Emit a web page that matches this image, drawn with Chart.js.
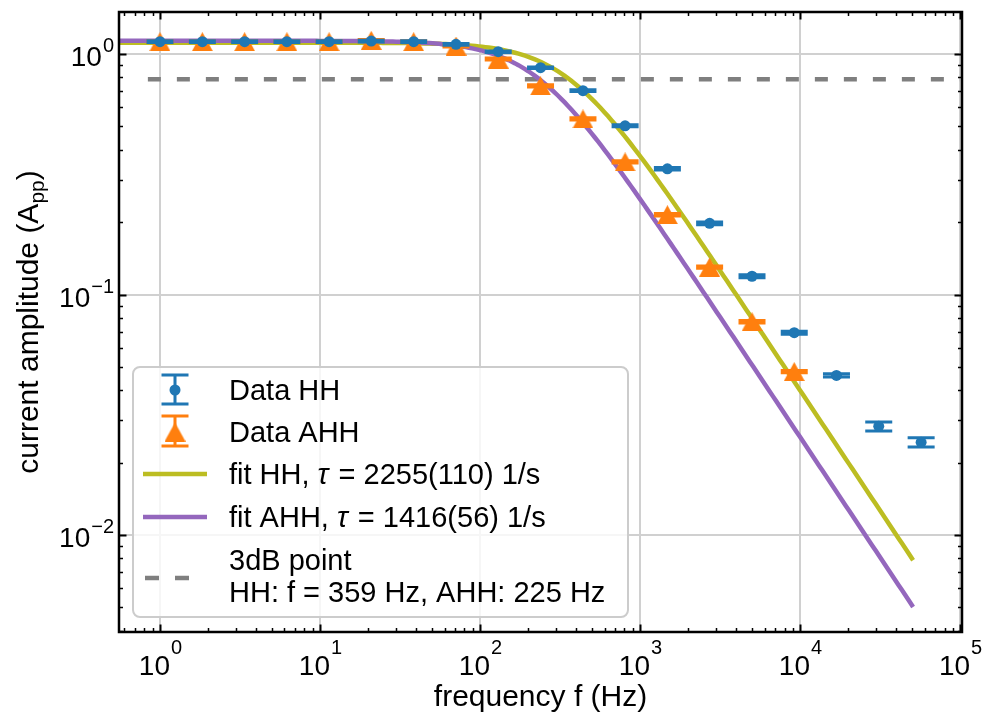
<!DOCTYPE html>
<html>
<head>
<meta charset="utf-8">
<script src="https://cdn.jsdelivr.net/npm/chart.js@4.4.1/dist/chart.umd.min.js"></script>
<style>
  html, body { margin: 0; padding: 0; background: #ffffff; }
  #wrap { width: 987px; height: 718px; }
</style>
</head>
<body>
<div id="wrap"><canvas id="chart" width="987" height="718"></canvas></div>
<script>
// ---- measured data ----
const hhFreq = [1.00, 1.84, 3.38, 6.21, 11.4, 20.9, 38.5, 70.8, 130, 239, 440, 807, 1483, 2723, 5012, 9204, 16900, 31050, 57150];
const hhAmp  = [1.125, 1.125, 1.125, 1.125, 1.125, 1.132, 1.125, 1.097, 1.022, 0.877, 0.704, 0.503, 0.333, 0.1976, 0.1191, 0.0694, 0.0461, 0.0283, 0.0243];
const hhErr  = [0.009, 0.009, 0.009, 0.009, 0.009, 0.009, 0.009, 0.009, 0.008, 0.007, 0.006, 0.005, 0.004, 0.0028, 0.0017, 0.0010, 0.0007, 0.0012, 0.0011];

const ahhFreq = [1.00, 1.84, 3.38, 6.21, 11.4, 20.9, 38.5, 70.8, 130, 239, 440, 807, 1483, 2723, 5012, 9204];
const ahhAmp  = [1.125, 1.125, 1.125, 1.125, 1.125, 1.14, 1.125, 1.079, 0.953, 0.737, 0.537, 0.356, 0.2147, 0.130, 0.0770, 0.0478];
const ahhErr  = [0.009, 0.009, 0.009, 0.009, 0.009, 0.009, 0.009, 0.009, 0.009, 0.008, 0.006, 0.004, 0.0025, 0.0015, 0.0009, 0.0005];

// low-pass fit: A(f) = A0 / sqrt(1 + (2*pi*f/tau)^2)
const fitTauHH = 2255, fitA0HH = 1.115;
const fitTauAHH = 1416, fitA0AHH = 1.135;
const fitRange = [0.55, 50000];

// 3 dB level
const db3Level = 0.785;
const db3Range = [0.84, 100000];

// axis ticks
const xTickVals = [1, 10, 100, 1000, 10000, 100000];
const xTickExp  = ['0', '1', '2', '3', '4', '5'];
const yTickVals = [1, 0.1, 0.01];
const yTickExp  = ['0', '\u22121', '\u22122'];

const xLim = [0.5544, 102900];
const yLim = [0.003951, 1.495];

// ---- colours ----
const BLUE = '#1f77b4', ORANGE = '#ff7f0e', OLIVE = '#bcbd22', PURPLE = '#9467bd', GREY = '#7f7f7f';
const FONT = '"Liberation Sans", Arial, Helvetica, sans-serif';

function fitCurve(a0, tau) {
  const pts = [];
  const n = 240;
  const l0 = Math.log10(fitRange[0]), l1 = Math.log10(fitRange[1]);
  for (let i = 0; i <= n; i++) {
    const f = Math.pow(10, l0 + (l1 - l0) * i / n);
    const w = 2 * Math.PI * f / tau;
    pts.push({ x: f, y: a0 / Math.sqrt(1 + w * w) });
  }
  return pts;
}

// triangle marker (centred on its bounding box)
function makeTriangle(w, h, color) {
  const c = document.createElement('canvas');
  c.width = w; c.height = h;
  const g = c.getContext('2d');
  g.fillStyle = color;
  g.beginPath();
  g.moveTo(w / 2, 0); g.lineTo(w, h); g.lineTo(0, h); g.closePath();
  g.fill();
  return c;
}
const triMarker = makeTriangle(21, 19, ORANGE);

const errData = { 0: { amp: hhAmp, err: hhErr, color: BLUE }, 1: { amp: ahhAmp, err: ahhErr, color: ORANGE } };

const decorPlugin = {
  id: 'decor',
  beforeDatasetsDraw(chart) {
    const { ctx, chartArea: a, scales: { x, y } } = chart;
    ctx.save();
    ctx.strokeStyle = '#d0d0d0';
    ctx.lineWidth = 2;
    xTickVals.forEach(v => {
      const px = Math.round(x.getPixelForValue(v));
      if (px < a.left || px > a.right) return;
      ctx.beginPath(); ctx.moveTo(px, a.top); ctx.lineTo(px, a.bottom); ctx.stroke();
    });
    yTickVals.forEach(v => {
      const py = Math.round(y.getPixelForValue(v));
      ctx.beginPath(); ctx.moveTo(a.left, py); ctx.lineTo(a.right, py); ctx.stroke();
    });
    ctx.restore();
  },
  beforeDatasetDraw(chart, args) {
    const e = errData[args.index];
    if (!e) return;
    const { ctx, scales: { y } } = chart;
    const meta = chart.getDatasetMeta(args.index);
    ctx.save();
    ctx.strokeStyle = e.color;
    ctx.lineWidth = 3;
    meta.data.forEach((pt, i) => {
      const yTop = y.getPixelForValue(e.amp[i] + e.err[i]);
      const yBot = y.getPixelForValue(e.amp[i] - e.err[i]);
      ctx.beginPath();
      ctx.moveTo(pt.x, yTop); ctx.lineTo(pt.x, yBot);
      ctx.moveTo(pt.x - 13.5, yTop); ctx.lineTo(pt.x + 13.5, yTop);
      ctx.moveTo(pt.x - 13.5, yBot); ctx.lineTo(pt.x + 13.5, yBot);
      ctx.stroke();
    });
    ctx.restore();
  },
  afterDatasetsDraw(chart) {
    const { ctx } = chart;
    ctx.save();

    // legend
    const L = { x0: 133, y0: 367, x1: 628, y1: 617, r: 7 };
    ctx.beginPath();
    ctx.roundRect(L.x0, L.y0, L.x1 - L.x0, L.y1 - L.y0, L.r);
    ctx.fillStyle = 'rgba(255,255,255,0.8)';
    ctx.fill();
    ctx.strokeStyle = '#cccccc';
    ctx.lineWidth = 2;
    ctx.stroke();

    const sx = 175, tx = 229;
    // Data HH symbol
    ctx.strokeStyle = BLUE; ctx.lineWidth = 3;
    ctx.beginPath();
    ctx.moveTo(sx, 375); ctx.lineTo(sx, 404);
    ctx.moveTo(sx - 13.5, 375); ctx.lineTo(sx + 13.5, 375);
    ctx.moveTo(sx - 13.5, 404); ctx.lineTo(sx + 13.5, 404);
    ctx.stroke();
    ctx.fillStyle = BLUE;
    ctx.beginPath(); ctx.arc(sx, 390, 5.5, 0, Math.PI * 2); ctx.fill();
    // Data AHH symbol
    ctx.strokeStyle = ORANGE;
    ctx.beginPath();
    ctx.moveTo(sx, 416); ctx.lineTo(sx, 446);
    ctx.moveTo(sx - 13.5, 416); ctx.lineTo(sx + 13.5, 416);
    ctx.moveTo(sx - 13.5, 446); ctx.lineTo(sx + 13.5, 446);
    ctx.stroke();
    ctx.drawImage(triMarker, sx - 10.5, 432 - 9.5);
    // fit lines
    ctx.lineWidth = 4.5; ctx.lineCap = 'butt';
    ctx.strokeStyle = OLIVE;
    ctx.beginPath(); ctx.moveTo(143, 474); ctx.lineTo(207, 474); ctx.stroke();
    ctx.strokeStyle = PURPLE;
    ctx.beginPath(); ctx.moveTo(143, 517); ctx.lineTo(207, 517); ctx.stroke();
    // dashed 3dB
    ctx.strokeStyle = GREY;
    ctx.beginPath(); ctx.moveTo(145, 578); ctx.lineTo(159, 578); ctx.moveTo(175, 578); ctx.lineTo(189, 578); ctx.stroke();

    ctx.fillStyle = '#000000';
    ctx.textBaseline = 'alphabetic';
    ctx.textAlign = 'left';
    const fs = 29;
    ctx.font = `${fs}px ${FONT}`;
    ctx.fillText('Data HH', tx, 400);
    ctx.fillText('Data AHH', tx, 442);
    const drawTau = (pre, post, base) => {
      ctx.font = `${fs}px ${FONT}`;
      ctx.fillText(pre, tx, base);
      let w = ctx.measureText(pre).width;
      ctx.font = `italic ${fs}px ${FONT}`;
      ctx.fillText('\u03c4', tx + w, base);
      w += ctx.measureText('\u03c4').width + 2;
      ctx.font = `${fs}px ${FONT}`;
      ctx.fillText(post, tx + w, base);
    };
    drawTau('fit HH, ', ' = 2255(110) 1/s', 484);
    drawTau('fit AHH, ', ' = 1416(56) 1/s', 527);
    ctx.font = `${fs}px ${FONT}`;
    ctx.fillText('3dB point', tx, 570);
    ctx.fillText('HH: f = 359 Hz, AHH: 225 Hz', tx, 602);

    ctx.restore();
  },
  afterDraw(chart) {
    const { ctx, chartArea: a, scales: { x, y } } = chart;
    ctx.save();
    // inward ticks
    ctx.strokeStyle = '#000000';
    const tick = (isMajor) => { ctx.lineWidth = isMajor ? 2 : 1.5; return isMajor ? 7.5 : 4; };
    for (let k = -1; k <= 5; k++) {
      for (let m = 1; m <= 9; m++) {
        const v = m * Math.pow(10, k);
        if (v < xLim[0] || v > xLim[1]) continue;
        const px = Math.round(x.getPixelForValue(v)) + 0.5;
        const len = tick(m === 1);
        ctx.beginPath();
        ctx.moveTo(px, a.bottom); ctx.lineTo(px, a.bottom - len);
        ctx.moveTo(px, a.top); ctx.lineTo(px, a.top + len);
        ctx.stroke();
      }
    }
    for (let k = -3; k <= 0; k++) {
      for (let m = 1; m <= 9; m++) {
        const v = m * Math.pow(10, k);
        if (v < yLim[0] || v > yLim[1]) continue;
        const py = Math.round(y.getPixelForValue(v)) + 0.5;
        const len = tick(m === 1);
        ctx.beginPath();
        ctx.moveTo(a.left, py); ctx.lineTo(a.left + len, py);
        ctx.moveTo(a.right, py); ctx.lineTo(a.right - len, py);
        ctx.stroke();
      }
    }
    // frame
    ctx.lineWidth = 2.5;
    ctx.strokeRect(a.left, a.top, a.right - a.left, a.bottom - a.top);

    // tick labels
    ctx.fillStyle = '#000000';
    ctx.textBaseline = 'alphabetic';
    const baseFs = 28, supFs = 20;
    xTickVals.forEach((v, i) => {
      const px = x.getPixelForValue(v);
      ctx.font = `${baseFs}px ${FONT}`;
      const w1 = ctx.measureText('10').width;
      ctx.font = `${supFs}px ${FONT}`;
      const w2 = ctx.measureText(xTickExp[i]).width;
      const left = px - (w1 + w2) / 2;
      ctx.textAlign = 'left';
      ctx.font = `${baseFs}px ${FONT}`;
      ctx.fillText('10', left, 675);
      ctx.font = `${supFs}px ${FONT}`;
      ctx.fillText(xTickExp[i], left + w1 + 1, 654);
    });
    yTickVals.forEach((v, i) => {
      const py = y.getPixelForValue(v);
      ctx.font = `${supFs}px ${FONT}`;
      const w2 = ctx.measureText(yTickExp[i]).width;
      const right = 114;
      ctx.textAlign = 'right';
      ctx.fillText(yTickExp[i], right, py - 2);
      ctx.font = `${baseFs}px ${FONT}`;
      ctx.fillText('10', right - w2 - 1, py + 12);
    });

    // axis titles
    const tfs = 30, subFs = 21;
    ctx.textAlign = 'center';
    ctx.font = `${tfs}px ${FONT}`;
    ctx.fillText('frequency f (Hz)', (a.left + a.right) / 2, 706);

    ctx.translate(38, (a.top + a.bottom) / 2);
    ctx.rotate(-Math.PI / 2);
    ctx.textAlign = 'left';
    const t1 = 'current amplitude (A', t2 = 'pp', t3 = ')';
    ctx.font = `${tfs}px ${FONT}`;
    const w1 = ctx.measureText(t1).width, w3 = ctx.measureText(t3).width;
    ctx.font = `${subFs}px ${FONT}`;
    const w2 = ctx.measureText(t2).width;
    let cx = -(w1 + w2 + w3) / 2;
    ctx.font = `${tfs}px ${FONT}`;
    ctx.fillText(t1, cx, 0); cx += w1;
    ctx.font = `${subFs}px ${FONT}`;
    ctx.fillText(t2, cx, 6); cx += w2;
    ctx.font = `${tfs}px ${FONT}`;
    ctx.fillText(t3, cx, 0);

    ctx.restore();
  }
};

new Chart(document.getElementById('chart'), {
  type: 'scatter',
  data: {
    datasets: [
      {
        label: 'Data HH',
        data: hhFreq.map((f, i) => ({ x: f, y: hhAmp[i] })),
        pointStyle: 'circle', pointRadius: 5.5,
        backgroundColor: BLUE, borderColor: BLUE, borderWidth: 0,
        showLine: false
      },
      {
        label: 'Data AHH',
        data: ahhFreq.map((f, i) => ({ x: f, y: ahhAmp[i] })),
        pointStyle: triMarker, pointRadius: 10,
        backgroundColor: ORANGE, borderColor: ORANGE, borderWidth: 0,
        showLine: false
      },
      {
        label: 'fit AHH',
        data: fitCurve(fitA0AHH, fitTauAHH),
        showLine: true, borderColor: PURPLE, borderWidth: 4.5,
        pointRadius: 0, tension: 0, borderCapStyle: 'square'
      },
      {
        label: 'fit HH',
        data: fitCurve(fitA0HH, fitTauHH),
        showLine: true, borderColor: OLIVE, borderWidth: 4.5,
        pointRadius: 0, tension: 0, borderCapStyle: 'square'
      },
      {
        label: '3dB point',
        data: db3Range.map(f => ({ x: f, y: db3Level })),
        showLine: true, borderColor: GREY, borderWidth: 4.5,
        borderDash: [13, 16], pointRadius: 0, borderCapStyle: 'butt'
      }
    ]
  },
  options: {
    responsive: false,
    animation: false,
    devicePixelRatio: 1,
    layout: { padding: { left: 119, top: 12, right: 25, bottom: 86 } },
    plugins: { legend: { display: false }, tooltip: { enabled: false } },
    scales: {
      x: { type: 'logarithmic', min: xLim[0], max: xLim[1], display: false },
      y: { type: 'logarithmic', min: yLim[0], max: yLim[1], display: false }
    }
  },
  plugins: [decorPlugin]
});
</script>
</body>
</html>
